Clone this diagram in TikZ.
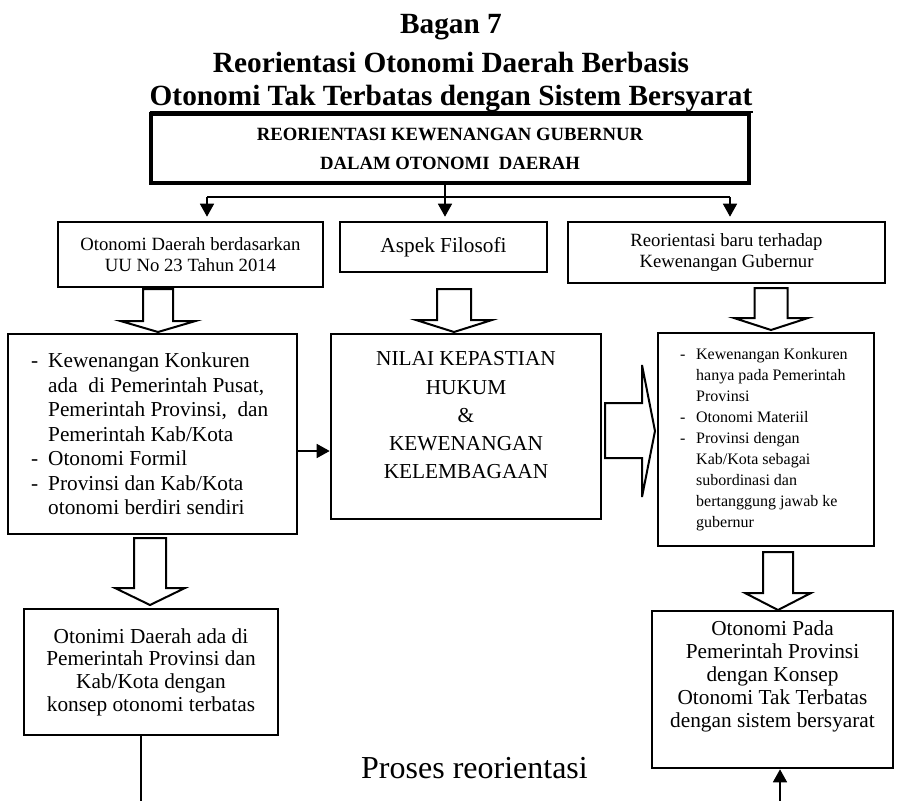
\documentclass[tikz,border=0pt]{standalone}
\usepackage{fontspec}
\setmainfont{Liberation Serif}
\usetikzlibrary{arrows.meta,calc}
\newcommand\blkdown[6]{% xc, ytop, yshaftbottom, ytip, shafthalf, headhalf
  \draw[blk] ({#1-#5},#2) -- ({#1+#5},#2) -- ({#1+#5},#3) -- ({#1+#6},#3) -- (#1,#4) -- ({#1-#6},#3) -- ({#1-#5},#3) -- cycle;}
\begin{document}
\begin{tikzpicture}[x=1pt,y=-1pt,
  box/.style={draw, line width=2.6pt, inner sep=0pt, align=center},
  conn/.style={line width=1.6pt},
  arr/.style={conn, -{Triangle[length=13pt,width=14pt]}},
  blk/.style={draw, line width=2pt, fill=white, line join=miter, miter limit=10},
  titlef/.style={font=\fontsize{29.3}{35}\selectfont\bfseries, inner sep=0pt},
  fa/.style={font=\fontsize{18.7}{20.7}\selectfont},
  fb/.style={font=\fontsize{21.3}{24.5}\selectfont},
  fc/.style={font=\fontsize{16}{21}\selectfont},
  listtxt/.style={align=left, inner sep=0pt, anchor=west}]
\useasboundingbox[fill=white] (0,0) rectangle (903,801);

% title
\node[titlef, anchor=base] (t1) at (451,33) {Bagan 7};
\node[titlef, anchor=base] (t2) at (451,72) {Reorientasi Otonomi Daerah Berbasis};
\node[titlef, anchor=base] (t3) at (451,105) {Otonomi Tak Terbatas dengan Sistem Bersyarat};
\draw[line width=2pt] ([yshift=-7pt]t3.base west) -- ([yshift=-7pt]t3.base east);

% top box
\node[box, line width=3.5pt, minimum width=598pt, minimum height=69pt,
      font=\fontsize{18.7}{29}\selectfont\bfseries] (top) at (450,148.5)
  {REORIENTASI KEWENANGAN GUBERNUR\\DALAM OTONOMI\ \ DAERAH};

% second row
\node[box, fa, minimum width=265pt, minimum height=65pt] (a) at (190.5,254.5)
  {Otonomi Daerah berdasarkan\\UU No 23 Tahun 2014};
\node[box, fb, minimum width=207pt, minimum height=50pt] (b) at (443.5,247)
  {Aspek Filosofi};
\node[box, fa, minimum width=317pt, minimum height=61pt] (c) at (726.5,252.5)
  {Reorientasi baru terhadap\\Kewenangan Gubernur};

% connectors from top box
\coordinate (j) at (445,197);
\coordinate (jl) at (207,197);
\coordinate (jr) at (730,197);
\draw[conn] (top.south -| j) -- (j);
\draw[conn] (jl) -- (jr);
\draw[arr] (jl) -- ([yshift=4pt]a.north -| jl);
\draw[arr] (j) -- ([yshift=4pt]b.north -| j);
\draw[arr] (jr) -- ([yshift=4pt]c.north -| jr);

% third row
\node[box, minimum width=289pt, minimum height=200pt] (d) at (152.5,434) {};
\node[listtxt, fb] (dtext) at (31,434)
  {\makebox[17pt][l]{-}Kewenangan Konkuren\\
   \hspace*{17pt}ada\ \ di Pemerintah Pusat,\\
   \hspace*{17pt}Pemerintah Provinsi,\ \ dan\\
   \hspace*{17pt}Pemerintah Kab/Kota\\
   \makebox[17pt][l]{-}Otonomi Formil\\
   \makebox[17pt][l]{-}Provinsi dan Kab/Kota\\
   \hspace*{17pt}otonomi berdiri sendiri};
\node[box, minimum width=270pt, minimum height=185pt] (e) at (466,426.5) {};
\node[font=\fontsize{21.3}{28.25}\selectfont, align=center, inner sep=0pt] (etext) at (466,415.5)
  {NILAI KEPASTIAN\\HUKUM\\\&\\KEWENANGAN\\KELEMBAGAAN};
\node[box, minimum width=216pt, minimum height=213pt] (f) at (766,439.5) {};
\node[listtxt, fc] (ftext) at (680,439.5)
  {\makebox[16pt][l]{-}Kewenangan Konkuren\\
   \hspace*{16pt}hanya pada Pemerintah\\
   \hspace*{16pt}Provinsi\\
   \makebox[16pt][l]{-}Otonomi Materiil\\
   \makebox[16pt][l]{-}Provinsi dengan\\
   \hspace*{16pt}Kab/Kota sebagai\\
   \hspace*{16pt}subordinasi dan\\
   \hspace*{16pt}bertanggung jawab ke\\
   \hspace*{16pt}gubernur};

% fourth row
\node[box, font=\fontsize{21.3}{22.7}\selectfont, minimum width=254pt, minimum height=126pt] (g) at (151,672)
  {Otonimi Daerah ada di\\Pemerintah Provinsi dan\\Kab/Kota dengan\\konsep otonomi terbatas};
\node[box, minimum width=241pt, minimum height=157pt] (h) at (772.5,689.5) {};
\node[font=\fontsize{21.3}{23}\selectfont, align=center, inner sep=0pt] (htext) at (772.5,676)
  {Otonomi Pada\\Pemerintah Provinsi\\dengan Konsep\\Otonomi Tak Terbatas\\dengan sistem bersyarat};

\node[font=\fontsize{32}{36}\selectfont, anchor=base, inner sep=0pt] (proc) at (474.5,778) {Proses reorientasi};

% block arrows
\blkdown{158}{289}{321}{332}{15}{37.5}
\blkdown{454}{289}{320}{332}{17}{38}
\blkdown{771}{288}{318}{330}{16.5}{37}
\blkdown{150}{538}{588}{605}{16}{35}
\blkdown{778}{552}{593}{610}{15}{33}
\draw[blk] (605,403) -- (642,403) -- (642,365) -- (655,431) -- (642,497) -- (642,458) -- (605,458) -- cycle;

% D -> E
\coordinate (de) at (0,451);
\draw[arr] (d.east |- de) -- (e.west |- de);

% bottom connectors
\coordinate (gend) at (141,801);
\draw[conn] (gend |- g.south) -- (gend);
\coordinate (hstart) at (780,801);
\draw[arr] (hstart) -- (hstart |- h.south);
\end{tikzpicture}
\end{document}
